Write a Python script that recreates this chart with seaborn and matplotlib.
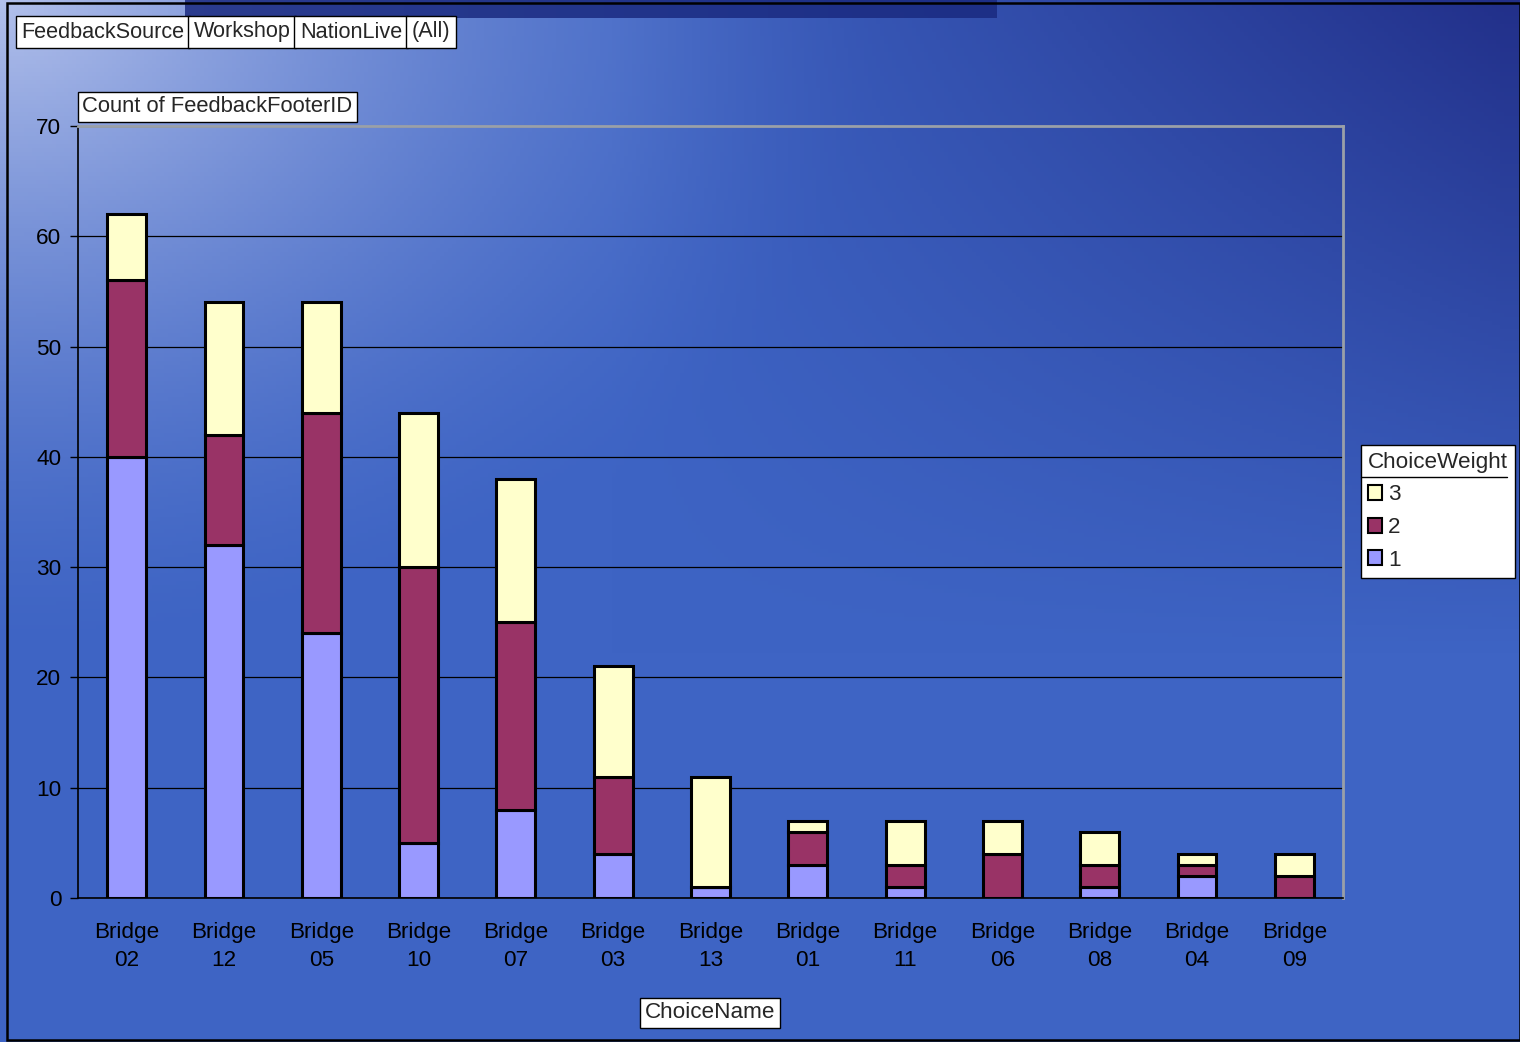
import numpy as np
import pandas as pd
import matplotlib
matplotlib.use("Agg")
import matplotlib.pyplot as plt
import seaborn as sns
from matplotlib.patches import Patch, Rectangle
from matplotlib.lines import Line2D

categories = ["Bridge\n02", "Bridge\n12", "Bridge\n05", "Bridge\n10", "Bridge\n07", "Bridge\n03",
              "Bridge\n13", "Bridge\n01", "Bridge\n11", "Bridge\n06", "Bridge\n08", "Bridge\n04", "Bridge\n09"]
w1 = [40, 32, 24, 5, 8, 4, 1, 3, 1, 0, 1, 2, 0]
w2 = [16, 10, 20, 25, 17, 7, 0, 3, 2, 4, 2, 1, 2]
w3 = [6, 12, 10, 14, 13, 10, 10, 1, 4, 3, 3, 1, 2]
series_names = ["1", "2", "3"]
colors = {"1": "#9999ff", "2": "#993366", "3": "#ffffcc"}
header_labels = ["FeedbackSource", "Workshop", "NationLive", "(All)"]

sns.set_theme(style="white")
plt.rcParams["font.family"] = ["Liberation Sans", "DejaVu Sans"]
FS = 16.2

fig = plt.figure(figsize=(15.2, 10.42), dpi=100)

# background gradient
H, W = 260, 380
yy, xx = np.mgrid[0:H, 0:W]
xn = xx / W
yn = yy / H
d = np.sqrt((xn * 1.2) ** 2 + (yn * 1.1) ** 2)
light = np.clip(1 - d / 0.7, 0, 1) ** 1.6
c_base = np.array([62, 100, 196]) / 255.0
c_light = np.array([178, 192, 235]) / 255.0
c_dark = np.array([34, 48, 138]) / 255.0
dark = np.clip((xn - 0.4) * 1.7, 0, 1) * np.clip(1 - yn * 1.6, 0, 1)
img = c_base[None, None, :] * np.ones((H, W, 1))
img = img * (1 - dark[..., None]) + c_dark[None, None, :] * dark[..., None]
img = img * (1 - light[..., None]) + c_light[None, None, :] * light[..., None]
bg = fig.add_axes([0, 0, 1, 1], zorder=-10)
bg.imshow(img, aspect="auto", extent=[0, 1, 0, 1], origin="upper")
bg.set_axis_off()
# top dark strip and outer frame
fig.add_artist(Rectangle((185 / 1520, 1 - 18 / 1042), 812 / 1520, 18 / 1042, transform=fig.transFigure,
                         facecolor="#1a2a80", edgecolor="none", alpha=0.85))
fig.add_artist(Rectangle((7 / 1520, 2 / 1042), 1513 / 1520, 1037 / 1042, transform=fig.transFigure,
                         fill=False, edgecolor="black", linewidth=1.8))

ax = fig.add_axes([78 / 1520, (1042 - 898) / 1042, 1265 / 1520, 772 / 1042])
ax.set_facecolor("none")

df = pd.DataFrame({"ChoiceName": categories, "1": w1, "2": w2, "3": w3})
b1 = np.array(w1)
b2 = b1 + np.array(w2)
sns.barplot(data=df, x="ChoiceName", y="1", color=colors["1"], edgecolor="black", linewidth=2.2,
            width=0.4, ax=ax, saturation=1, zorder=3)
sns.barplot(data=df, x="ChoiceName", y="2", bottom=b1, color=colors["2"], edgecolor="black",
            linewidth=2.2, width=0.4, ax=ax, saturation=1, zorder=3)
sns.barplot(data=df, x="ChoiceName", y="3", bottom=b2, color=colors["3"], edgecolor="black",
            linewidth=2.2, width=0.4, ax=ax, saturation=1, zorder=3)

ax.set_ylim(0, 70)
ax.set_xlim(-0.5, len(categories) - 0.5)
ax.set_yticks(range(0, 71, 10))
ax.yaxis.grid(True, color="black", linewidth=0.9, zorder=0)
ax.set_axisbelow(True)
ax.set_xlabel("")
ax.set_ylabel("")
ax.set_xticks(range(len(categories)))
ax.set_xticklabels(categories, fontsize=FS, color="black", linespacing=1.45)
ax.tick_params(axis="x", length=0, pad=17)
ax.set_xticks(np.arange(-0.5, len(categories), 1), minor=True)
ax.tick_params(axis="x", which="minor", length=6, width=1, color="black", direction="out")
ax.tick_params(axis="y", labelsize=FS, labelcolor="black", length=6, width=1, color="black",
               direction="out", left=True, pad=6)
for s in ["left", "bottom"]:
    ax.spines[s].set_color("black")
    ax.spines[s].set_linewidth(1.2)
for s in ["top", "right"]:
    ax.spines[s].set_color("#9aa0a8")
    ax.spines[s].set_linewidth(2)

box = dict(boxstyle="square,pad=0.2", facecolor="white", edgecolor="black", linewidth=1)
fig.text(82 / 1520, 1 - 107 / 1042, "Count of FeedbackFooterID", fontsize=15.8, va="center", ha="left", bbox=box)
fig.text(710 / 1520, 1 - 1013 / 1042, "ChoiceName", fontsize=FS, va="center", ha="center", bbox=box)

hbox = dict(boxstyle="square,pad=0.25", facecolor="white", edgecolor="black", linewidth=1)
xpos = 21
for t in header_labels:
    tx = fig.text(xpos / 1520, 1 - 32 / 1042, t, fontsize=15.6, va="center", ha="left", bbox=hbox)
    fig.canvas.draw()
    bb = tx.get_bbox_patch().get_window_extent()
    xpos = bb.x1 + 4

handles = [Patch(facecolor=colors[k], edgecolor="black", linewidth=1.5) for k in ["3", "2", "1"]]
leg = ax.legend(handles, ["3", "2", "1"], title="ChoiceWeight", loc="upper left",
                bbox_to_anchor=(1361 / 1520, 1 - 445 / 1042), bbox_transform=fig.transFigure,
                fontsize=FS, title_fontsize=FS, frameon=True, fancybox=False, edgecolor="black",
                framealpha=1, borderpad=0.3, handlelength=0.65, handleheight=0.65, handletextpad=0.25,
                labelspacing=0.52, borderaxespad=0, alignment="left")
leg.get_frame().set_linewidth(1)
fig.add_artist(Line2D([1361 / 1520, 1507 / 1520], [1 - 477 / 1042, 1 - 477 / 1042],
                      transform=fig.transFigure, color="black", linewidth=1, zorder=10))

fig.savefig("out.png", dpi=100)
